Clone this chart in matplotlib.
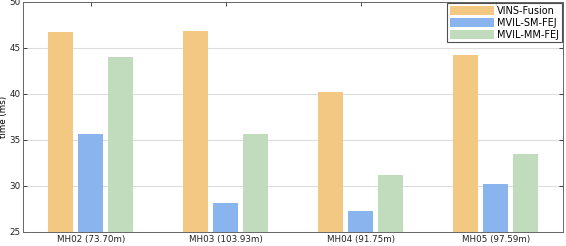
import numpy as np
import matplotlib
matplotlib.use("Agg")
import matplotlib.pyplot as plt

sequences = ["MH02 (73.70m)", "MH03 (103.93m)", "MH04 (91.75m)", "MH05 (97.59m)"]
methods = ["VINS-Fusion", "MVIL-SM-FEJ", "MVIL-MM-FEJ"]
vins = [46.7, 46.8, 40.2, 44.2]
sm_fej = [35.6, 28.1, 27.3, 30.2]
mm_fej = [44.0, 35.6, 31.2, 33.5]
colors = ["#F2C882", "#8AB4EE", "#C1DBBD"]

fig = plt.figure(figsize=(5.66, 2.46), dpi=100)
ax = fig.add_axes([0.041, 0.057, 0.954, 0.935])

x = np.arange(1, len(sequences) + 1)
w = 0.185
off = 0.222
for i, (vals, name) in enumerate(zip([vins, sm_fej, mm_fej], methods)):
    ax.bar(x + (i - 1) * off, vals, width=w, color=colors[i], label=name, zorder=2)

ax.set_xlim(0.5, 4.5)
ax.set_ylim(25, 50)
ax.set_yticks([25, 30, 35, 40, 45, 50])
ax.set_xticks(x)
ax.set_xticklabels(sequences)
ax.tick_params(axis="both", direction="in", labelsize=6.3, length=3, width=0.6,
               top=True, right=True, colors="#222222", pad=2)
ax.set_ylabel("time (ms)", fontsize=6.3, labelpad=1)
ax.yaxis.grid(True, color="#dddddd", linewidth=0.8, zorder=0)
ax.set_axisbelow(True)
for s in ax.spines.values():
    s.set_linewidth(0.7)
    s.set_color("#666666")

leg = ax.legend(loc="upper right", prop={"size": 7}, frameon=True, fancybox=False,
                borderpad=0.25, labelspacing=0.2, handlelength=4.6, handleheight=1.0,
                handletextpad=0.3, borderaxespad=0.15)
leg.get_frame().set_edgecolor("#222222")
leg.get_frame().set_linewidth(0.8)

fig.savefig("out.png", dpi=100)
